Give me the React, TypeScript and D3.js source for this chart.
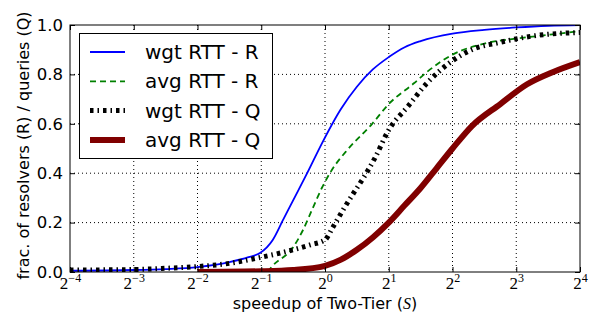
import React, { useEffect, useRef } from "react"
import * as d3 from "d3"

// x values are log2(speedup)
const wgtRX = [-4, -3, -2.5, -2, -1.5, -1.2, -1.02, -0.82, -0.66, -0.5, -0.28, -0.05, 0.25, 0.5, 0.75, 1, 1.25, 1.5, 2, 2.5, 3, 3.5, 4]
const wgtRY = [0.005, 0.008, 0.012, 0.02, 0.04, 0.06, 0.077, 0.13, 0.21, 0.29, 0.4, 0.52, 0.66, 0.75, 0.82, 0.87, 0.91, 0.935, 0.965, 0.98, 0.99, 0.997, 1.0]

const avgRX = [-0.9, -0.84, -0.5, -0.345, -0.19, -0.05, 0.1, 0.37, 0.74, 1, 1.4, 1.6, 2, 2.5, 3, 3.5, 4]
const avgRY = [0, 0.02, 0.1, 0.17, 0.26, 0.34, 0.41, 0.5, 0.6, 0.68, 0.765, 0.81, 0.88, 0.925, 0.945, 0.96, 0.975]

const wgtQX = [-4, -3, -2.5, -2, -1.5, -1, -0.7, -0.5, -0.23, 0, 0.12, 0.28, 0.45, 0.6, 0.78, 1, 1.3, 1.6, 1.95, 2.3, 2.75, 3.25, 4]
const wgtQY = [0.008, 0.01, 0.015, 0.022, 0.035, 0.06, 0.077, 0.09, 0.11, 0.13, 0.18, 0.25, 0.32, 0.38, 0.46, 0.575, 0.67, 0.765, 0.846, 0.9, 0.93, 0.955, 0.97]

const avgQX = [-2, -1, -0.5, 0, 0.25, 0.5, 0.75, 1, 1.25, 1.5, 1.75, 2, 2.3, 2.75, 3.17, 3.58, 4]
const avgQY = [0, 0.003, 0.008, 0.025, 0.05, 0.09, 0.14, 0.2, 0.27, 0.34, 0.42, 0.5, 0.59, 0.68, 0.76, 0.81, 0.85]

const xTicks = [-4, -3, -2, -1, 0, 1, 2, 3, 4]
const yTicks = [0, 0.2, 0.4, 0.6, 0.8, 1.0]

const seriesNames = ["wgt RTT - R", "avg RTT - R", "wgt RTT - Q", "avg RTT - Q"]

const App = () => {
    const ref = useRef<SVGSVGElement>(null)

    useEffect(() => {
        const svg = d3.select(ref.current)
        svg.selectAll("*").remove()

        const left = 70, right = 580, top = 25, bottom = 272
        const x = d3.scaleLinear().domain([-4, 4]).range([left, right])
        const y = d3.scaleLinear().domain([0, 1]).range([bottom, top])
        const sans = "DejaVu Sans"

        const styles = [
            { color: "#0000ff", width: 1.8, dash: null },
            { color: "#008000", width: 1.8, dash: "6,4" },
            { color: "#000000", width: 5, dash: "3.5,4,1.5,4" },
            { color: "#800000", width: 6, dash: null },
        ]
        const series = [
            wgtRX.map((v, i) => [v, wgtRY[i]]),
            avgRX.map((v, i) => [v, avgRY[i]]),
            wgtQX.map((v, i) => [v, wgtQY[i]]),
            avgQX.map((v, i) => [v, avgQY[i]]),
        ]

        // grid
        const grid = svg.append("g").attr("stroke", "#000").attr("stroke-dasharray", "1,3").attr("stroke-width", 1)
        xTicks.slice(1, -1).forEach((t) => {
            grid.append("line").attr("x1", x(t)).attr("x2", x(t)).attr("y1", top).attr("y2", bottom)
        })
        yTicks.slice(1, -1).forEach((t) => {
            grid.append("line").attr("x1", left).attr("x2", right).attr("y1", y(t)).attr("y2", y(t))
        })

        // curves
        svg.append("clipPath").attr("id", "plot").append("rect")
            .attr("x", left).attr("y", top).attr("width", right - left).attr("height", bottom - top)
        const line = d3.line<number[]>().x((d) => x(d[0])).y((d) => y(d[1])).curve(d3.curveMonotoneX)
        const curves = svg.append("g").attr("clip-path", "url(#plot)")
        series.forEach((s, i) => {
            curves.append("path")
                .attr("d", line(s))
                .attr("fill", "none")
                .attr("stroke", styles[i].color)
                .attr("stroke-width", styles[i].width)
                .attr("stroke-dasharray", styles[i].dash)
        })

        // axes with inside ticks
        const yAxis = svg.append("g").attr("transform", `translate(${left},0)`)
            .call(d3.axisLeft(y).tickValues(yTicks).tickFormat(d3.format(".1f")).tickSizeInner(-5).tickSizeOuter(0).tickPadding(7))
        yAxis.select(".domain").remove()
        yAxis.selectAll("text").attr("font-family", sans).attr("font-size", 16.5).attr("fill", "#000")
        svg.append("g").attr("transform", `translate(${right},0)`)
            .call(d3.axisRight(y).tickValues(yTicks).tickFormat(() => "").tickSizeInner(-5).tickSizeOuter(0))
            .select(".domain").remove()
        svg.append("g").attr("transform", `translate(0,${top})`)
            .call(d3.axisTop(x).tickValues(xTicks).tickFormat(() => "").tickSizeInner(-5).tickSizeOuter(0))
            .select(".domain").remove()
        const xAxis = svg.append("g").attr("transform", `translate(0,${bottom})`)
            .call(d3.axisBottom(x).tickValues(xTicks).tickFormat(() => "").tickSizeInner(-5).tickSizeOuter(0))
        xAxis.select(".domain").remove()
        xAxis.selectAll<SVGGElement, number>(".tick").each(function (d) {
            const t = d3.select(this).append("text")
                .attr("y", 17).attr("text-anchor", "middle")
                .attr("font-family", "Liberation Serif").attr("fill", "#000")
            t.append("tspan").attr("font-size", 17).text("2")
            t.append("tspan").attr("font-size", 12).attr("dy", -7).text(d < 0 ? `\u2212${-d}` : `${d}`)
        })

        // frame
        svg.append("rect").attr("x", left).attr("y", top).attr("width", right - left).attr("height", bottom - top)
            .attr("fill", "none").attr("stroke", "#000").attr("stroke-width", 1)

        // axis labels
        const xl = svg.append("text").attr("x", (left + right) / 2).attr("y", 309)
            .attr("text-anchor", "middle").attr("font-family", sans).attr("font-size", 16).attr("fill", "#000")
        xl.append("tspan").text("speedup of Two-Tier (")
        xl.append("tspan").attr("font-family", "Liberation Serif").attr("font-style", "italic").text("S")
        xl.append("tspan").text(")")
        svg.append("text").attr("transform", `translate(29,${(top + bottom) / 2 - 3}) rotate(-90)`)
            .attr("text-anchor", "middle").attr("font-family", sans).attr("font-size", 16).attr("fill", "#000")
            .text("frac. of resolvers (R) / queries (Q)")

        // legend
        const lg = svg.append("g")
        lg.append("rect").attr("x", 79.5).attr("y", 33.5).attr("width", 193).attr("height", 125)
            .attr("fill", "#fff").attr("stroke", "#000").attr("stroke-width", 1)
        seriesNames.forEach((name, i) => {
            const ly = 52 + i * 29.3
            lg.append("line").attr("x1", 90).attr("x2", 125).attr("y1", ly).attr("y2", ly)
                .attr("stroke", styles[i].color).attr("stroke-width", styles[i].width)
                .attr("stroke-dasharray", styles[i].dash)
            lg.append("text").attr("x", 145).attr("y", ly + 7).attr("font-family", sans)
                .attr("font-size", 20).attr("fill", "#000").text(name)
        })
    }, [])

    return (
        <div style={{ position: "absolute", left: 0, top: 0 }}>
            <svg ref={ref} width={600} height={320} style={{ display: "block", background: "#fff" }} />
        </div>
    )
}

export default App
